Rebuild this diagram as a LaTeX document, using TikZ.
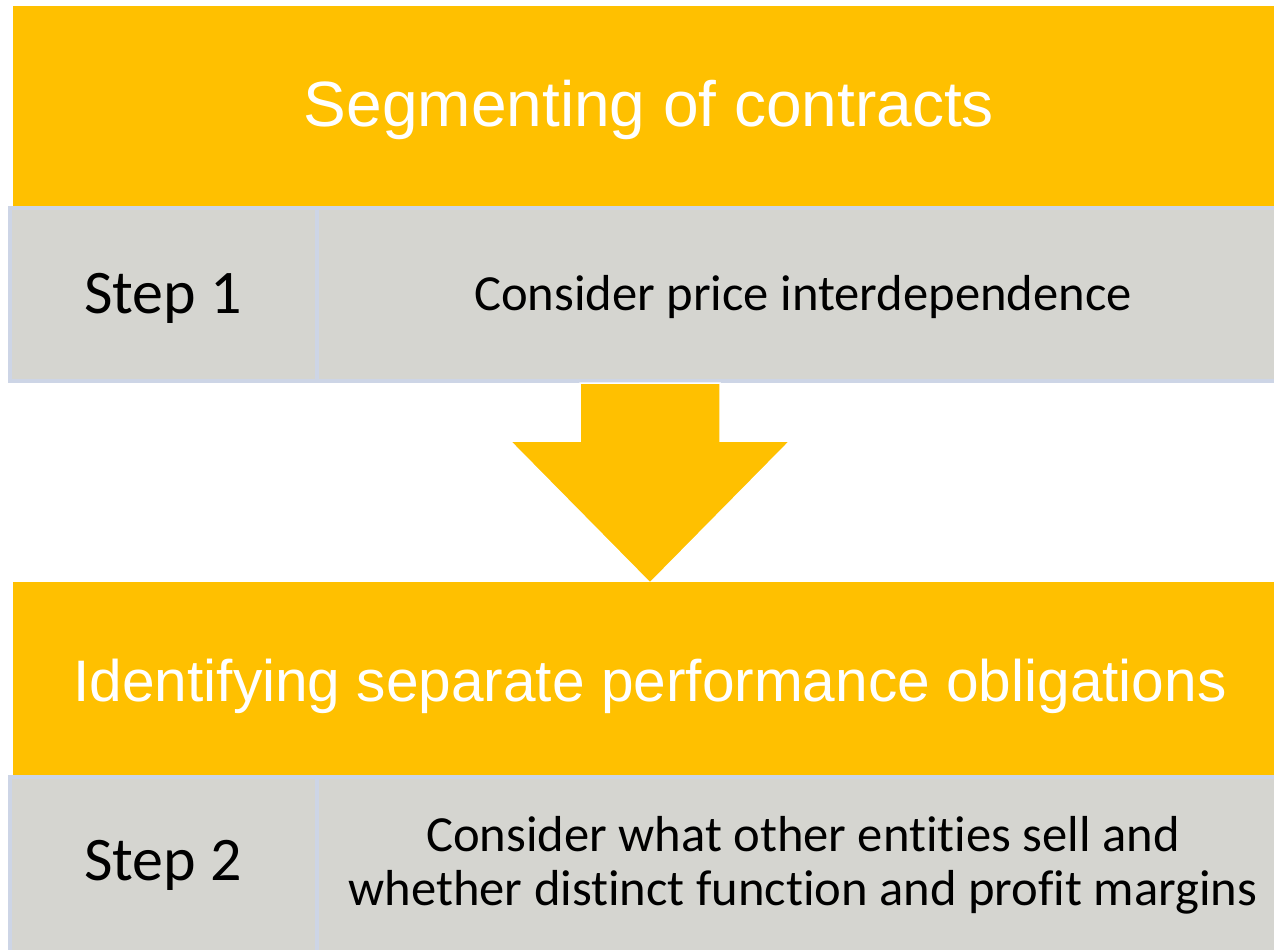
\documentclass[tikz,border=0pt]{standalone}
\usepackage{fontspec}
\setmainfont{Carlito}[Ligatures={NoCommon}]
\newfontfamily\headfont{Liberation Sans}
\definecolor{gold}{HTML}{FFC000}
\definecolor{cellgrey}{HTML}{D5D5D0}
\definecolor{cellline}{HTML}{CDD5E6}
\tikzset{
  titlebox/.style={fill=gold, minimum width=1270pt, anchor=north west, inner sep=0pt, outer sep=0pt},
  titletext/.style={text=white, anchor=base, inner sep=0pt},
  cellbox/.style={fill=cellgrey, draw=cellline, line width=4pt, anchor=north west,
    inner sep=0pt, outer sep=0pt},
  steptext/.style={font=\fontsize{62}{70}\selectfont, text=black, anchor=base, inner sep=0pt},
  desctext/.style={font=\fontsize{50.6}{54}\selectfont, text=black, align=center, anchor=base, inner sep=0pt},
  downarrow/.style={fill=gold, draw=white, line width=1.5pt, line join=miter}
}
\begin{document}
\begin{tikzpicture}[x=1pt,y=-1pt]
\useasboundingbox (0,0) rectangle (1274,950);
\clip (0,0) rectangle (1274,950);
% first block
\node[titlebox, minimum height=200pt] (t1) at (13,6) {};
\node[titletext, font=\headfont\fontsize{64}{70}\selectfont] (t1t) at (649,126) {Segmenting of contracts};
\node[cellbox, minimum width=307pt, minimum height=173pt] (s1l) at (10,208) {};
\node[cellbox, minimum width=975pt, minimum height=173pt] (s1r) at (317,208) {};
\node[steptext] (s1lt) at (163,313) {Step 1};
\node[desctext] (s1rt) at (803,310) {Consider price interdependence};
% arrow
\coordinate (ab) at (650,383);
\coordinate (at) at (650,583);
\fill[downarrow] ([xshift=-70pt]ab) -- ([xshift=70pt]ab) -- ([xshift=70pt]ab |- 0,442)
  -- ([xshift=139pt]ab |- 0,442) -- (at) -- ([xshift=-138pt]ab |- 0,442)
  -- ([xshift=-70pt]ab |- 0,442) -- cycle;
\draw[downarrow] ([xshift=-139pt]ab |- 0,442) -- (at) -- ([xshift=139pt]ab |- 0,442);
% second block
\node[titlebox, minimum height=193pt] (t2) at (13,582) {};
\node[titletext, font=\headfont\fontsize{58.6}{64}\selectfont] (t2t) at (650,701) {Identifying separate performance obligations};
\node[cellbox, minimum width=307pt, minimum height=190pt] (s2l) at (10,777) {};
\node[cellbox, minimum width=975pt, minimum height=190pt] (s2r) at (317,777) {};
\node[steptext] (s2lt) at (163,880) {Step 2};
\node[desctext] (s2rt) at (803,905) {Consider what other entities sell and\\whether distinct function and profit margins};
\end{tikzpicture}
\end{document}
